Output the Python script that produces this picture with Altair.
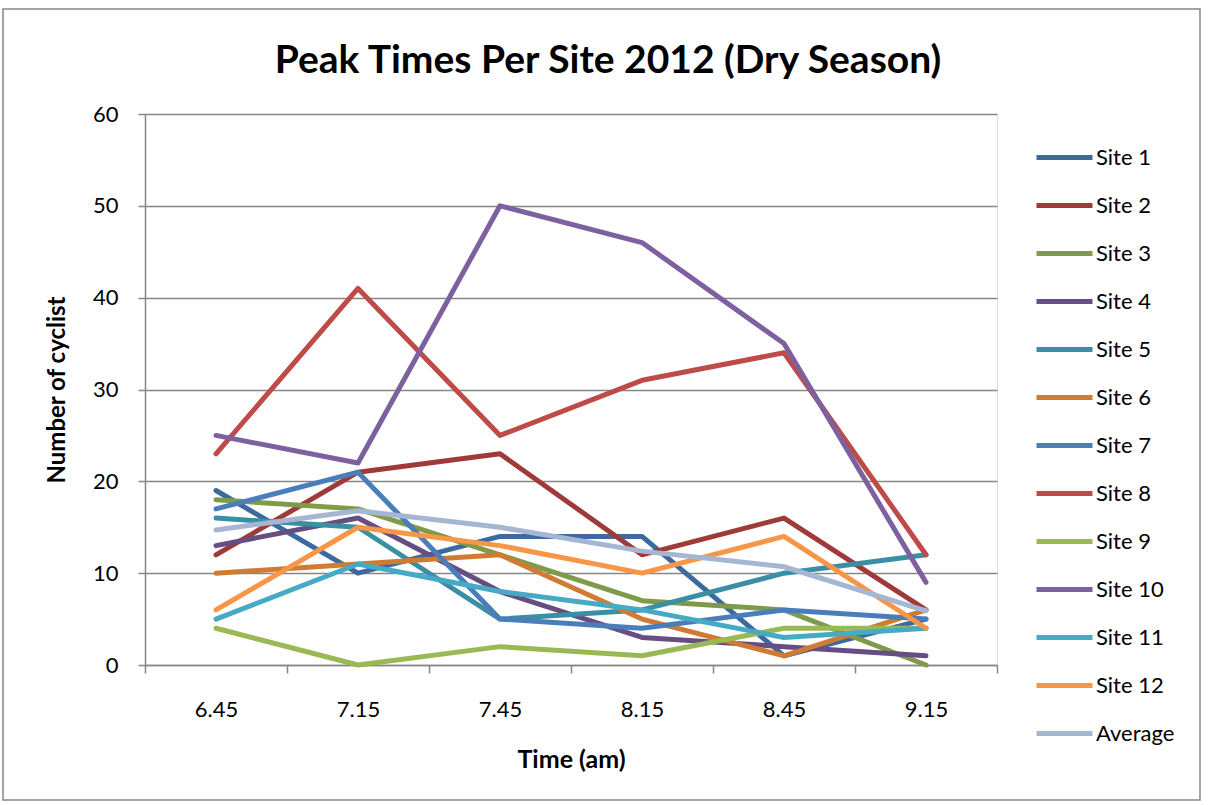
import altair as alt
import pandas as pd

times = ["6.45", "7.15", "7.45", "8.15", "8.45", "9.15"]
series_names = ["Site 1", "Site 2", "Site 3", "Site 4", "Site 5", "Site 6",
                "Site 7", "Site 8", "Site 9", "Site 10", "Site 11", "Site 12", "Average"]

site1 = [19, 10, 14, 14, 1, 5]
site2 = [12, 21, 23, 12, 16, 6]
site3 = [18, 17, 12, 7, 6, 0]
site4 = [13, 16, 8, 3, 2, 1]
site5 = [16, 15, 5, 6, 10, 12]
site6 = [10, 11, 12, 5, 1, 6]
site7 = [17, 21, 5, 4, 6, 5]
site8 = [23, 41, 25, 31, 34, 12]
site9 = [4, 0, 2, 1, 4, 4]
site10 = [25, 22, 50, 46, 35, 9]
site11 = [5, 11, 8, 6, 3, 4]
site12 = [6, 15, 13, 10, 14, 4]
average = [14.7, 16.8, 15.0, 12.4, 10.7, 5.9]

colors = ["#3C6A9E", "#9E3B38", "#7F9A48", "#664E82", "#3A8EA5", "#D07B33",
          "#4A7EBB", "#BE4B48", "#98B954", "#7D60A0", "#46AAC5", "#F79646", "#A5B6D3"]

all_series = [site1, site2, site3, site4, site5, site6, site7, site8, site9,
              site10, site11, site12, average]

rows = []
for name, vals in zip(series_names, all_series):
    for t, v in zip(times, vals):
        rows.append({"time": t, "series": name, "value": v})
df = pd.DataFrame(rows)

FONT = "Lato"

lines = alt.Chart(df).mark_line(strokeWidth=5, strokeCap="round", strokeJoin="round").encode(
    x=alt.X("time:N", sort=times,
            scale=alt.Scale(type="band", paddingInner=0, paddingOuter=0),
            axis=alt.Axis(title="Time (am)", labelAngle=0, tickBand="extent",
                          domainColor="#868686", domainWidth=1.5,
                          tickColor="#868686", tickWidth=1.5, tickSize=8,
                          labelFont=FONT, labelFontSize=22, labelColor="#000000",
                          labelPadding=26, grid=False,
                          titleFont=FONT, titleFontSize=25, titleFontWeight="bold",
                          titleColor="#000000", titlePadding=27)),
    y=alt.Y("value:Q",
            scale=alt.Scale(domain=[0, 60], nice=False, zero=True),
            axis=alt.Axis(title="Number of cyclist", values=[0, 10, 20, 30, 40, 50, 60],
                          domainColor="#868686", domainWidth=1.5,
                          tickColor="#868686", tickWidth=1.5, tickSize=7,
                          gridColor="#868686", gridWidth=1.5,
                          labelFont=FONT, labelFontSize=22, labelColor="#000000",
                          labelPadding=20,
                          titleFont=FONT, titleFontSize=24, titleFontWeight="bold",
                          titleColor="#000000", titlePadding=23)),
    color=alt.Color("series:N",
                    scale=alt.Scale(domain=series_names, range=colors),
                    sort=series_names,
                    legend=alt.Legend(title=None, orient="none", legendX=889, legendY=13,
                                      symbolType="stroke", symbolSize=3136,
                                      symbolStrokeWidth=5, padding=0,
                                      rowPadding=6, labelOffset=1,
                                      labelFont=FONT, labelFontSize=22,
                                      labelColor="#000000", labelLimit=200)),
)

border = alt.Chart(alt.Data(values=[{}])).mark_rect(
    fillOpacity=0, stroke="#868686", strokeWidth=1.5
).encode(
    x=alt.value(-142), x2=alt.value(1055), y=alt.value(-105), y2=alt.value(686)
)

chart = alt.layer(border, lines).properties(
    width=852, height=551,
    padding={"left": 145, "top": 114, "right": 212, "bottom": 140},
    autosize=alt.AutoSizeParams(type="none"),
    title=alt.TitleParams("Peak Times Per Site 2012 (Dry Season)", font=FONT,
                          fontSize=39, fontWeight="bold", color="#000000",
                          anchor="middle", dx=37, offset=-104, baseline="alphabetic"),
).configure_view(stroke=None).configure(background="#ffffff")

chart.save("out.html", embed_options={"renderer": "svg", "actions": False})
